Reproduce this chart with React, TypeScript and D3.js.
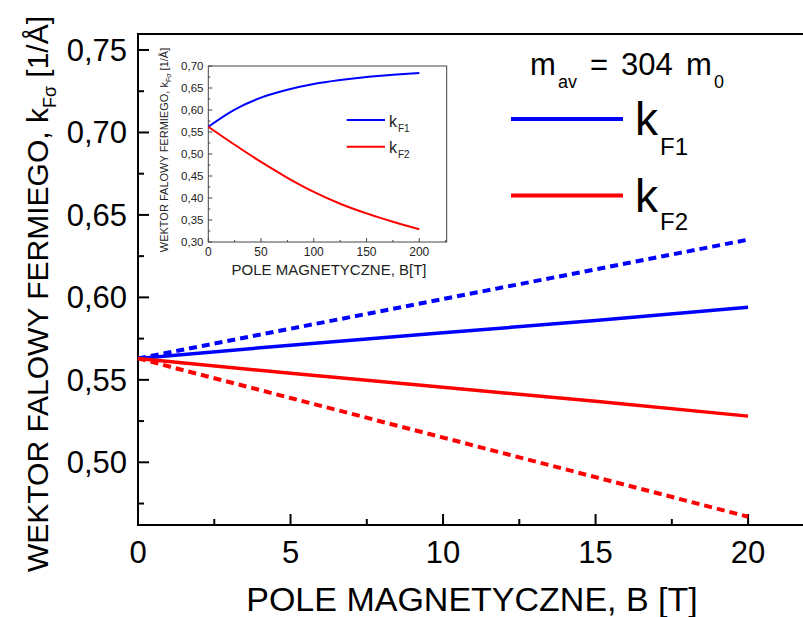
import React from "react";
import * as d3 from "d3";

// ---- Main chart data ----
const fieldB = [0, 5, 10, 15, 20];
const kF1Solid = [0.563, 0.571, 0.5785, 0.586, 0.594];
const kF2Solid = [0.563, 0.554, 0.5455, 0.537, 0.528];
const kF1Dashed = [0.563, 0.581, 0.599, 0.617, 0.635];
const kF2Dashed = [0.563, 0.539, 0.515, 0.491, 0.467];

const xTicksMain = [0, 5, 10, 15, 20];
const xMinorMain = [2.5, 7.5, 12.5, 17.5];
const yTicksMain = [0.5, 0.55, 0.6, 0.65, 0.7, 0.75];
const yMinorMain = [0.475, 0.525, 0.575, 0.625, 0.675, 0.725];

// ---- Inset data ----
const insetB = [0, 25, 50, 75, 100, 125, 150, 175, 200];
const insetKF1 = [0.562, 0.601, 0.628, 0.646, 0.659, 0.668, 0.675, 0.68, 0.684];
const insetKF2 = [0.562, 0.521, 0.482, 0.446, 0.414, 0.387, 0.365, 0.346, 0.329];
const insetXTicks = [0, 50, 100, 150, 200];
const insetXMinor = [25, 75, 125, 175, 225];
const insetYTicks = [0.3, 0.35, 0.4, 0.45, 0.5, 0.55, 0.6, 0.65, 0.7];
const insetYMinor = [0.325, 0.375, 0.425, 0.475, 0.525, 0.575, 0.625, 0.675];

const fmt = (v: number) => v.toFixed(2).replace(".", ",");
const FONT = "'Liberation Sans', Arial, sans-serif";
const BLUE = "#0000ff";
const RED = "#ff0000";

export default function App() {
  // main scales
  const x = d3.scaleLinear().domain([0, 21.8]).range([138, 803]);
  const y = d3.scaleLinear().domain([0.5, 0.75]).range([462.3, 50]);
  const top = 34;
  const bottom = 525;
  const left = 138;

  const line = (ys: number[]) =>
    d3
      .line<number>()
      .x((_, i) => x(fieldB[i]))
      .y((d) => y(d))(ys) as string;

  // inset scales
  const ix = d3.scaleLinear().domain([0, 226]).range([208.3, 446.7]);
  const iy = d3.scaleLinear().domain([0.3, 0.7]).range([242, 66]);
  const iline = (ys: number[]) =>
    d3
      .line<number>()
      .curve(d3.curveMonotoneX)
      .x((_, i) => ix(insetB[i]))
      .y((d) => iy(d))(ys) as string;

  return (
    <svg
      width={803}
      height={617}
      style={{ position: "absolute", left: 0, top: 0, background: "#fff" }}
      fontFamily={FONT}
    >
      <rect x={0} y={0} width={803} height={617} fill="#fff" />

      {/* main frame */}
      <line x1={left} y1={top} x2={803} y2={top} stroke="#000" strokeWidth={2} />
      <line x1={left} y1={top - 1} x2={left} y2={bottom + 1} stroke="#000" strokeWidth={2} />
      <line x1={left} y1={bottom} x2={803} y2={bottom} stroke="#000" strokeWidth={2} />

      {/* main ticks */}
      {xTicksMain.map((t) => (
        <g key={"xt" + t}>
          <line x1={x(t)} x2={x(t)} y1={bottom} y2={bottom - 11} stroke="#000" strokeWidth={2} />
          <text x={x(t)} y={563} fontSize={31} textAnchor="middle">
            {t}
          </text>
        </g>
      ))}
      {xMinorMain.map((t) => (
        <line key={"xm" + t} x1={x(t)} x2={x(t)} y1={bottom} y2={bottom - 6} stroke="#000" strokeWidth={2} />
      ))}
      {yTicksMain.map((t) => (
        <g key={"yt" + t}>
          <line x1={left} x2={left + 11} y1={y(t)} y2={y(t)} stroke="#000" strokeWidth={2} />
          <text x={127} y={y(t) + 11} fontSize={31} textAnchor="end">
            {fmt(t)}
          </text>
        </g>
      ))}
      {yMinorMain.map((t) => (
        <line key={"ym" + t} x1={left} x2={left + 6} y1={y(t)} y2={y(t)} stroke="#000" strokeWidth={2} />
      ))}

      {/* axis titles */}
      <text x={472} y={611} fontSize={34} textAnchor="middle">
        POLE MAGNETYCZNE, B [T]
      </text>
      <g transform="translate(48,294) rotate(-90)">
        <text x={0} y={0} fontSize={30} textAnchor="middle">
          WEKTOR FALOWY FERMIEGO, k
          <tspan fontSize={18} dy={8}>Fσ</tspan>
          <tspan dy={-8}> [1/Å]</tspan>
        </text>
      </g>

      {/* main lines */}
      <path d={line(kF1Dashed)} fill="none" stroke={BLUE} strokeWidth={4} strokeDasharray="8,5" />
      <path d={line(kF2Dashed)} fill="none" stroke={RED} strokeWidth={4} strokeDasharray="8,5" />
      <path d={line(kF1Solid)} fill="none" stroke={BLUE} strokeWidth={3.5} />
      <path d={line(kF2Solid)} fill="none" stroke={RED} strokeWidth={3.5} />

      {/* m_av annotation */}
      <text y={75} fontSize={31}>
        <tspan x={530}>m</tspan>
        <tspan x={558} y={88} fontSize={18}>av</tspan>
        <tspan x={590} y={75}>=</tspan>
        <tspan x={621} y={75}>304</tspan>
        <tspan x={686} y={75}>m</tspan>
        <tspan x={714} y={88} fontSize={18}>0</tspan>
      </text>

      {/* main legend */}
      <line x1={511} x2={623} y1={119} y2={119} stroke={BLUE} strokeWidth={4} />
      <text x={635} y={135} fontSize={46}>k</text>
      <text x={660} y={155} fontSize={24}>F1</text>
      <line x1={511} x2={623} y1={195.5} y2={195.5} stroke={RED} strokeWidth={4} />
      <text x={635} y={212} fontSize={46}>k</text>
      <text x={660} y={230} fontSize={24}>F2</text>

      {/* inset */}
      <g>
        <rect x={208.3} y={66} width={446.7 - 208.3} height={242 - 66} fill="#fff" stroke="#444" strokeWidth={1} />
        {insetXTicks.map((t) => (
          <g key={"ixt" + t}>
            <line x1={ix(t)} x2={ix(t)} y1={242} y2={238} stroke="#444" />
            <text x={ix(t)} y={256} fontSize={12} textAnchor="middle" fill="#222">
              {t}
            </text>
          </g>
        ))}
        {insetXMinor.map((t) => (
          <line key={"ixm" + t} x1={ix(t)} x2={ix(t)} y1={242} y2={240} stroke="#444" />
        ))}
        {insetYTicks.map((t) => (
          <g key={"iyt" + t}>
            <line x1={208.3} x2={212.3} y1={iy(t)} y2={iy(t)} stroke="#444" />
            <text x={203.5} y={iy(t) + 4} fontSize={11.5} textAnchor="end" fill="#222">
              {fmt(t)}
            </text>
          </g>
        ))}
        {insetYMinor.map((t) => (
          <line key={"iym" + t} x1={208.3} x2={210.3} y1={iy(t)} y2={iy(t)} stroke="#444" />
        ))}
        <text x={329} y={275} fontSize={15} textAnchor="middle" fill="#222">
          POLE MAGNETYCZNE, B[T]
        </text>
        <g transform="translate(168,150) rotate(-90)">
          <text x={0} y={0} fontSize={11} textAnchor="middle" fill="#222">
            WEKTOR FALOWY FERMIEGO, k
            <tspan fontSize={7} dy={3}>Fσ</tspan>
            <tspan dy={-3}> [1/Å]</tspan>
          </text>
        </g>
        <path d={iline(insetKF1)} fill="none" stroke={BLUE} strokeWidth={2} />
        <path d={iline(insetKF2)} fill="none" stroke={RED} strokeWidth={2} />

        <line x1={346.7} x2={385} y1={120} y2={120} stroke={BLUE} strokeWidth={2} />
        <text x={389} y={126.5} fontSize={16} fill="#222">k</text>
        <text x={398} y={131.5} fontSize={10} fill="#222">F1</text>
        <line x1={346.7} x2={385} y1={146.7} y2={146.7} stroke={RED} strokeWidth={2} />
        <text x={389} y={153} fontSize={16} fill="#222">k</text>
        <text x={398} y={158} fontSize={10} fill="#222">F2</text>
      </g>
    </svg>
  );
}
